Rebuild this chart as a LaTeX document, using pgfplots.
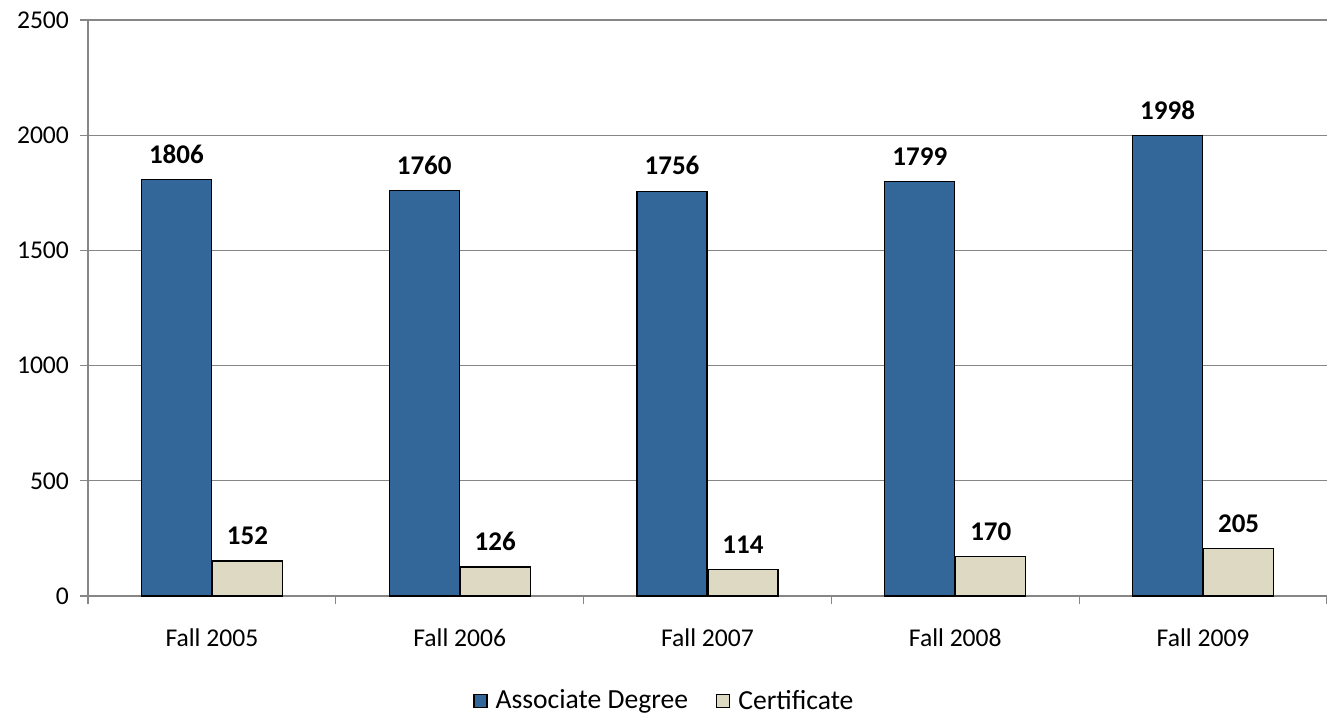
\documentclass[border=0pt]{standalone}
\usepackage{pgfplots}
\pgfplotsset{compat=1.18}
\usepackage{fontspec}
\setmainfont{Carlito}
\definecolor{assoc}{RGB}{51,102,153}
\definecolor{cert}{RGB}{221,217,195}
\definecolor{gridgray}{RGB}{134,134,134}
\begin{document}
\begin{tikzpicture}
\begin{axis}[
  scale only axis,
  width=619.5pt, height=288pt,
  xmin=-0.5, xmax=4.5,
  ymin=0, ymax=2500,
  ytick={0,500,...,2500},
  ymajorgrids,
  grid style={gridgray, line width=0.6pt},
  axis x line*=bottom,
  axis y line*=left,
  axis line style={gridgray, line width=0.6pt},
  every tick/.style={gridgray, line width=0.6pt},
  tick align=outside,
  major tick length=4pt,
  xtick={-0.5,0.5,1.5,2.5,3.5,4.5},
  xticklabels={},
  extra x ticks={0,1,2,3,4},
  extra x tick labels={Fall 2005,Fall 2006,Fall 2007,Fall 2008,Fall 2009},
  extra x tick style={major tick length=0pt, grid=none, tick label style={yshift=-13pt}},
  /pgf/number format/assume math mode=true,
  /pgf/number format/1000 sep={},
  tick label style={font=\fontsize{12.8}{15}\selectfont, black},
  yticklabel style={xshift=-2pt},
  ybar, bar width=35pt,
  nodes near coords,
  every node near coord/.append style={font=\fontsize{13.5}{16}\selectfont\bfseries, black, yshift=4.5pt},
  legend style={at={(0.466,0)}, anchor=center, yshift=-52.5pt, draw=none, legend columns=2,
    font=\fontsize{13.8}{16}\selectfont, /tikz/every even column/.append style={column sep=12pt},
    /tikz/every odd column/.append style={column sep=2pt}},
  legend image code/.code={\draw[#1, draw=black, line width=0.6pt] (0cm,-0.115cm) rectangle (0.23cm,0.115cm);},
  clip=false,
]
\addplot[fill=assoc, draw=black, line width=0.6pt, bar shift=-17.75pt] coordinates {(0,1806) (1,1760) (2,1756) (3,1799) (4,1998)};
\addplot[fill=cert, draw=black, line width=0.6pt, bar shift=17.75pt] coordinates {(0,152) (1,126) (2,114) (3,170) (4,205)};
\legend{Associate Degree, Certificate}
\coordinate (sw) at (rel axis cs:0,0);
\coordinate (ne) at (rel axis cs:1,1);
\end{axis}
\pgfresetboundingbox
\path ([xshift=-44pt,yshift=-59.5pt]sw) rectangle ([yshift=10pt]ne);
\end{tikzpicture}
\end{document}
